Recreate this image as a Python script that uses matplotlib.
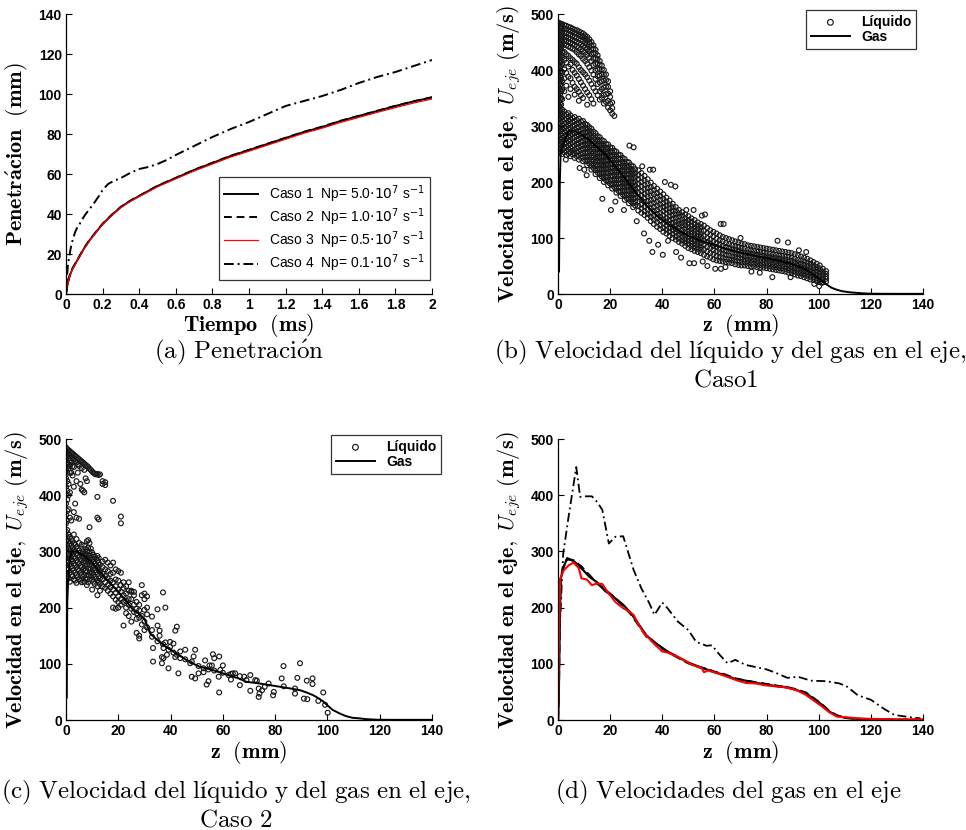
import numpy as np
import matplotlib
matplotlib.use('Agg')
from matplotlib import pyplot as plt
from matplotlib.font_manager import FontProperties

plt.rcParams['mathtext.fontset'] = 'cm'
plt.rcParams['font.family'] = ['Liberation Sans', 'DejaVu Sans']

# ---- (a) penetration vs time ----
t_a = [0, 0.005, 0.01, 0.02, 0.035, 0.05, 0.075, 0.1, 0.13, 0.16, 0.2, 0.25, 0.3, 0.35, 0.4, 0.5,
       0.6, 0.7, 0.8, 0.9, 1.0, 1.1, 1.2, 1.3, 1.4, 1.5, 1.6, 1.7, 1.8, 1.9, 2.0]
pen_caso1 = [0, 3, 5.5, 9, 12.5, 15, 19, 23, 27, 30.5, 35, 39.5, 43.5, 46.5, 49, 54, 58, 62, 65.5,
             69, 72, 75, 78, 81, 83.5, 86.5, 89, 91.5, 94, 96.3, 98.3]
pen_caso2 = [0, 3.2, 5.7, 9.3, 12.8, 15.2, 19.2, 23.2, 27.2, 30.6, 35.1, 39.6, 43.6, 46.6, 49.1,
             54.1, 58.1, 62.1, 65.6, 69.1, 72.1, 75.1, 78.1, 81.1, 83.7, 86.6, 89.1, 91.6, 94.1, 96.4, 98.4]
pen_caso3 = [0, 2.8, 5.3, 8.8, 12.3, 14.8, 18.8, 22.8, 26.8, 30.3, 34.8, 39.2, 43.2, 46.2, 48.7,
             53.6, 57.6, 61.5, 65.0, 68.5, 71.4, 74.4, 77.4, 80.4, 82.9, 85.8, 88.3, 90.8, 93.2, 95.5, 97.5]
t_a4 = [0, 0.005, 0.01, 0.02, 0.03, 0.04, 0.05, 0.06, 0.07, 0.08, 0.1, 0.12, 0.15, 0.18, 0.2, 0.23,
        0.26, 0.3, 0.35, 0.4, 0.45, 0.5, 0.55, 0.6, 0.7, 0.8, 0.9, 1.0, 1.1, 1.2, 1.3, 1.4, 1.5,
        1.6, 1.7, 1.8, 1.9, 2.0]
pen_caso4 = [0, 8, 14, 20, 25, 28, 31, 33, 34, 36, 39, 41.5, 45, 49, 52, 55, 56.5, 58, 60.5, 62.5,
             63.5, 65, 67, 69.5, 74, 78.5, 82.5, 86, 90, 94, 96.5, 99, 102, 105.5, 108.5, 111, 114, 117]
labels_a = [r'Caso 1  Np= 5.0$\cdot 10^{7}$ s$^{-1}$',
            r'Caso 2  Np= 1.0$\cdot 10^{7}$ s$^{-1}$',
            r'Caso 3  Np= 0.5$\cdot 10^{7}$ s$^{-1}$',
            r'Caso 4  Np= 0.1$\cdot 10^{7}$ s$^{-1}$']
xticks_a = [0, 0.2, 0.4, 0.6, 0.8, 1, 1.2, 1.4, 1.6, 1.8, 2]
xticklabels_a = ['0', '0.2', '0.4', '0.6', '0.8', '1', '1.2', '1.4', '1.6', '1.8', '2']

# ---- (b) liquid droplets (z, [u...]) and gas, caso 1 ----
liq_b_rows = [
    # upper band (injection velocity droplets)
    (0.0, [485, 479, 472, 466, 459, 452, 444, 436, 428, 420, 412, 404, 396, 388, 380, 372, 364, 356, 348, 340, 333]),
    (0.4, [484, 477, 470, 463, 456, 448, 440, 432, 424, 416, 408, 400, 392, 384, 376, 368, 360, 352, 344, 336]),
    (0.8, [483, 476, 469, 462, 455, 447, 438, 430, 421, 413, 405, 397, 389, 381, 373, 365, 357, 349, 341, 334]),
    (1.2, [482, 475, 468, 461, 453, 445, 436, 426, 417, 407, 398, 386, 375, 362, 350, 338]),
    (1.6, [482, 475, 468, 460, 452, 443, 433, 422, 410, 396, 380, 365, 348]),
    (2.4, [480, 474, 467, 460, 453, 446, 432, 418, 401, 385, 362]),
    (3.2, [479, 473, 466, 459, 452, 444, 428, 413, 395, 372]),
    (4.0, [477, 471, 464, 457, 450, 442, 425, 406, 388, 352]),
    (4.8, [476, 470, 463, 456, 449, 440, 421, 410, 385, 366]),
    (5.6, [474, 468, 461, 454, 447, 438, 418, 400, 377]),
    (6.4, [472, 466, 459, 452, 445, 436, 414, 395, 370, 356]),
    (7.2, [471, 465, 458, 450, 442, 432, 411, 390, 366]),
    (8.0, [469, 463, 456, 448, 440, 428, 405, 384, 361, 345]),
    (8.8, [467, 461, 454, 446, 437, 425, 400, 378, 355]),
    (9.6, [465, 459, 452, 443, 434, 420, 396, 372, 350]),
    (10.4, [462, 456, 449, 440, 431, 416, 392, 366]),
    (11.2, [459, 453, 446, 437, 427, 411, 387, 360, 338]),
    (12.0, [455, 449, 442, 433, 422, 405, 381, 355]),
    (12.8, [450, 444, 437, 428, 416, 399, 375, 348]),
    (13.6, [444, 438, 430, 420, 409, 392, 368, 340]),
    (14.4, [436, 430, 421, 411, 399, 384, 362]),
    (15.2, [426, 420, 411, 401, 389, 375, 355]),
    (16.0, [416, 410, 401, 390, 378, 362, 347]),
    (16.8, [408, 401, 392, 380, 366, 350]),
    (17.6, [400, 392, 381, 369, 355, 340]),
    (18.4, [392, 382, 370, 357, 343]),
    (19.2, [380, 370, 358, 345, 333]),
    (20.0, [362, 352, 340, 328]),
    (20.8, [342, 332, 322]),
    (21.6, [318]),
    # lower band
    (0.0, [251, 258, 266, 273, 281, 288, 295, 303, 310, 317, 323, 330]),
    (0.8, [254, 261, 269, 276, 284, 291, 298, 306, 313, 320, 327]),
    (1.6, [250, 257, 265, 272, 279, 287, 294, 301, 309, 316, 323, 329]),
    (2.4, [253, 260, 268, 275, 282, 290, 297, 304, 312, 319, 326]),
    (3.2, [248, 255, 263, 270, 277, 285, 292, 299, 306, 313, 321]),
    (4.0, [251, 258, 265, 273, 280, 287, 294, 302, 309, 316, 323]),
    (4.8, [246, 253, 261, 268, 275, 283, 290, 297, 304, 312, 319]),
    (5.6, [249, 256, 263, 271, 278, 285, 292, 300, 307, 314]),
    (6.4, [243, 250, 258, 265, 272, 280, 287, 294, 301, 309, 316]),
    (7.2, [246, 253, 260, 268, 275, 282, 289, 297, 304, 311]),
    (8.0, [240, 247, 255, 262, 269, 277, 284, 291, 298, 306, 313]),
    (8.8, [243, 250, 257, 265, 272, 279, 286, 293, 301, 308]),
    (9.6, [237, 244, 252, 259, 266, 273, 281, 288, 295, 302, 309]),
    (10.4, [239, 246, 253, 261, 268, 275, 282, 290, 297, 304]),
    (11.2, [230, 237, 245, 252, 259, 266, 274, 281, 288, 295, 302]),
    (12.0, [233, 240, 247, 255, 262, 269, 276, 284, 291, 298]),
    (12.8, [222, 229, 237, 244, 251, 258, 266, 273, 280, 287, 295]),
    (13.6, [225, 232, 239, 247, 254, 261, 268, 276, 283, 290]),
    (14.4, [214, 221, 229, 236, 243, 250, 258, 265, 272, 279, 287]),
    (15.2, [217, 224, 231, 239, 246, 253, 260, 268, 275, 282]),
    (16.0, [207, 214, 222, 229, 236, 243, 251, 258, 265, 272, 280]),
    (16.8, [210, 217, 224, 232, 239, 246, 253, 261, 268, 275]),
    (17.6, [200, 207, 215, 222, 229, 236, 244, 251, 258, 265, 273]),
    (18.4, [203, 210, 217, 225, 232, 239, 246, 254, 261, 268]),
    (19.2, [194, 201, 209, 216, 223, 230, 238, 245, 252, 259, 267]),
    (20.0, [197, 204, 211, 219, 226, 233, 240, 248, 255, 262]),
    (20.8, [188, 195, 203, 210, 217, 224, 232, 239, 246, 253, 261]),
    (21.6, [191, 198, 205, 213, 220, 227, 234, 242, 249, 256]),
    (22.4, [181, 188, 196, 203, 210, 217, 225, 232, 239, 246, 254]),
    (23.2, [184, 191, 198, 206, 213, 220, 227, 235, 242, 249]),
    (24.0, [175, 182, 190, 197, 204, 211, 219, 226, 233, 240, 248]),
    (24.8, [178, 185, 192, 200, 207, 214, 221, 229, 236, 243]),
    (25.6, [168, 175, 183, 190, 197, 204, 212, 219, 226, 233, 241]),
    (26.4, [171, 178, 185, 193, 200, 207, 214, 222, 229, 236]),
    (27.2, [162, 169, 177, 184, 191, 198, 206, 213, 220, 227, 235]),
    (28.0, [165, 172, 179, 187, 194, 201, 208, 216, 223, 230]),
    (28.8, [155, 162, 170, 177, 184, 191, 199, 206, 213, 220, 228]),
    (29.6, [158, 165, 172, 180, 187, 194, 201, 209, 216, 223]),
    (30.8, [149, 157, 165, 173, 181, 189, 197, 205, 213, 221]),
    (32.0, [145, 153, 160, 168, 176, 184, 192, 200, 208, 216]),
    (33.2, [141, 148, 156, 164, 172, 179, 187, 195, 203, 211]),
    (34.4, [136, 143, 151, 159, 166, 174, 182, 189, 197, 205]),
    (35.6, [130, 138, 145, 153, 161, 168, 176, 183, 191, 199]),
    (36.8, [125, 133, 140, 148, 155, 163, 170, 178, 186, 193]),
    (38.0, [120, 128, 135, 143, 150, 158, 165, 173, 180, 188]),
    (39.2, [116, 123, 131, 138, 145, 153, 160, 168, 175, 183]),
    (40.4, [111, 118, 126, 133, 140, 148, 155, 162, 170, 178]),
    (41.6, [108, 115, 122, 129, 136, 144, 151, 158, 165, 172]),
    (42.8, [104, 111, 118, 125, 132, 139, 146, 153, 160, 167]),
    (44.0, [100, 107, 114, 120, 127, 134, 141, 148, 155, 161]),
    (45.2, [97, 103, 110, 116, 123, 129, 136, 142, 149, 155]),
    (46.4, [93, 99, 106, 112, 119, 125, 131, 138, 144, 150]),
    (47.6, [90, 96, 102, 108, 114, 121, 127, 133, 140, 146]),
    (48.8, [86, 92, 98, 104, 110, 117, 123, 129, 135, 142]),
    (50.0, [82, 89, 95, 101, 107, 113, 119, 126, 132, 139]),
    (51.2, [80, 86, 92, 98, 104, 110, 116, 122, 129, 135]),
    (52.4, [77, 83, 89, 95, 101, 107, 113, 119, 125, 132]),
    (53.6, [75, 81, 87, 92, 98, 104, 110, 116, 122, 128]),
    (54.8, [73, 79, 84, 90, 96, 102, 107, 113, 119, 125]),
    (56.0, [70, 79, 88, 95, 104, 113, 122]),
    (57.2, [67, 76, 84, 93, 100, 109, 118]),
    (58.4, [65, 73, 82, 90, 97, 106, 114]),
    (59.6, [62, 71, 79, 86, 94, 103, 111]),
    (60.8, [60, 68, 76, 84, 91, 99, 108]),
    (62.0, [59, 66, 74, 81, 89, 96, 105]),
    (63.2, [58, 65, 72, 79, 86, 94, 102]),
    (64.4, [57, 63, 70, 77, 84, 91, 100]),
    (65.6, [56, 62, 69, 76, 82, 89, 98]),
    (66.8, [55, 61, 67, 74, 80, 87, 96]),
    (68.0, [53, 60, 66, 72, 79, 85, 94]),
    (69.2, [52, 58, 65, 71, 77, 84, 92]),
    (70.4, [51, 57, 63, 70, 76, 82, 90]),
    (71.6, [51, 57, 62, 68, 74, 81, 89]),
    (72.8, [50, 56, 61, 67, 73, 79, 87]),
    (74.0, [49, 55, 60, 66, 72, 78, 86]),
    (75.2, [49, 54, 60, 65, 71, 77, 85]),
    (76.4, [48, 53, 59, 64, 70, 76, 84]),
    (77.6, [47, 52, 58, 63, 69, 75, 83]),
    (78.8, [47, 52, 57, 63, 68, 74, 82]),
    (80.0, [46, 51, 56, 62, 67, 73, 81]),
    (81.2, [45, 50, 55, 61, 66, 72, 80]),
    (82.4, [44, 49, 54, 60, 65, 71, 79]),
    (83.6, [43, 48, 53, 59, 64, 70, 78]),
    (84.8, [42, 47, 52, 58, 63, 69, 77]),
    (86.0, [41, 46, 51, 57, 62, 68, 76]),
    (87.2, [40, 45, 50, 56, 61, 67, 75]),
    (88.4, [38, 43, 49, 54, 60, 66, 74]),
    (89.6, [37, 42, 48, 53, 59, 65, 73]),
    (90.8, [35, 40, 46, 51, 57, 63, 71]),
    (92.0, [33, 38, 44, 50, 55, 61, 69]),
    (93.2, [32, 37, 43, 48, 54, 60, 67]),
    (94.4, [30, 35, 41, 46, 52, 58, 65]),
    (95.6, [28, 33, 39, 44, 50, 56, 63]),
    (96.8, [26, 31, 37, 42, 48, 54, 60]),
    (98.0, [25, 30, 35, 40, 46, 51, 57]),
    (99.2, [23, 28, 33, 38, 43, 48, 54]),
    (100.4, [21, 26, 31, 36, 41, 46, 51]),
    (101.6, [21, 26, 30, 35, 40, 45]),
    (102.8, [22, 27, 31, 36, 41]),
    # scattered droplets outside the bands
    (3.0, [240]), (6.0, [252]), (8.3, [225]), (10.1, [222]), (11.0, [212]), (17.0, [170]),
    (20.3, [150]), (22.0, [165]), (27.4, [265]), (29.0, [262]), (32.3, [228]), (35.2, [222]),
    (36.5, [222]), (41.0, [200]), (43.3, [195]), (45.0, [192]), (49.2, [150]), (52.0, [150]),
    (55.2, [140]), (56.4, [142]), (62.4, [125]), (63.5, [125]), (70.0, [100]), (84.2, [95]),
    (88.2, [92]), (92.4, [78]), (95.2, [75]), (35.0, [95]), (36.2, [75]), (40.2, [70]),
    (42.2, [95]), (45.3, [75]), (50.4, [55]), (52.2, [55]), (55.5, [58]), (60.3, [45]),
    (62.5, [45]), (64.2, [48]), (82.2, [30]), (89.2, [30]), (98.3, [18]), (101.2, [20]),
    (100.2, [14]), (25.3, [150]), (30.2, [130]), (33.0, [108]), (38.4, [88]), (47.2, [65]),
    (57.3, [50]), (74.2, [40]), (77.4, [38]),
]
gas_b_z = [0.4, 0.5, 0.7, 1.0, 1.5, 2.5, 4, 6, 9, 12, 15, 18, 22, 26, 30, 34, 38, 42, 46, 50, 55, 60,
           65, 70, 74, 78, 82, 86, 90, 94, 97, 99, 101, 103, 105, 107, 109, 112, 116, 120, 130, 140]
gas_b_u = [40, 110, 200, 250, 262, 275, 290, 292, 285, 275, 262, 250, 228, 205, 180, 158, 140, 126,
           114, 104, 95, 87, 80, 74, 70, 66, 62, 58, 53, 46, 38, 31, 24, 17, 11, 7.5, 5, 3, 1.5, 0.5,
           0.3, 0.3]

# ---- (c) liquid droplets and gas, caso 2 ----
liq_c_rows = [
    (0.0, [485, 478, 470, 462, 455, 445, 430, 415, 400, 385, 365, 350, 335, 320, 305, 290, 275, 262, 248]),
    (0.5, [482, 475, 468, 458, 450, 440, 425, 408, 392, 372, 355, 338, 325, 312, 300, 288, 270, 255]),
    (1.0, [480, 473, 465, 455, 447, 420, 400, 375, 330, 318, 306, 295, 282, 268, 252]),
    (1.5, [478, 470, 462, 452, 440, 405, 360, 326, 314, 302, 290, 278, 262, 246]),
    (2.0, [476, 468, 458, 440, 355, 322, 310, 298, 286, 274, 258]),
    (2.5, [474, 466, 452, 435, 318, 306, 294, 282, 270, 256]),
    (3.0, [472, 463, 450, 415, 370, 330, 314, 302, 290, 278, 266, 250]),
    (3.5, [470, 460, 385, 312, 300, 288, 276, 262, 248]),
    (4.0, [468, 458, 425, 360, 322, 308, 296, 284, 272, 258, 244]),
    (4.5, [466, 455, 440, 305, 293, 281, 268, 254]),
    (5.0, [464, 452, 358, 315, 302, 290, 278, 266, 250]),
    (5.5, [462, 420, 298, 286, 274, 262, 248]),
    (6.0, [460, 448, 410, 312, 296, 284, 272, 258, 245]),
    (6.5, [458, 408, 300, 290, 280, 268, 255]),
    (7.0, [456, 445, 405, 310, 295, 283, 270, 258, 246]),
    (7.5, [454, 430, 304, 292, 280, 266, 252]),
    (8.0, [452, 425, 318, 300, 288, 276, 264, 250, 240]),
    (8.5, [450, 320, 306, 294, 282, 270, 258, 245]),
    (9.0, [447, 343, 315, 300, 288, 276, 262, 250]),
    (9.5, [445, 305, 292, 280, 268, 256]),
    (10.0, [442, 298, 286, 274, 262, 250, 232]),
    (10.5, [440, 294, 282, 270, 258, 246]),
    (11.0, [438, 290, 278, 266, 254, 242]),
    (11.5, [437, 287, 275, 263, 251]),
    (12.0, [438, 397, 360, 292, 284, 272, 260, 248, 238, 222]),
    (12.5, [436, 357, 288, 280, 268, 256, 246]),
    (13.0, [437, 276, 264, 252, 242, 230]),
    (14.0, [420, 425, 282, 272, 260, 250, 238]),
    (15.0, [423, 418, 285, 268, 256, 245, 235]),
    (16.0, [280, 265, 252, 240, 230]),
    (17.0, [275, 260, 248, 236, 225]),
    (18.0, [390, 280, 262, 245, 232, 220, 200]),
    (19.0, [268, 250, 238, 226, 214, 198]),
    (20.0, [265, 248, 232, 220, 210, 200]),
    (21.0, [362, 350, 262, 240, 228, 215, 205]),
    (22.0, [245, 235, 222, 210, 168]),
    (23.0, [238, 225, 212, 200, 190]),
    (24.0, [245, 230, 215, 205, 185]),
    (25.0, [230, 228, 215, 198, 175]),
    (26.0, [228, 222, 205, 192]),
    (27.0, [210, 198, 190, 180, 155]),
    (28.0, [205, 195, 182, 150, 145]),
    (29.0, [240, 222, 185, 170]),
    (30.0, [225, 215, 196, 175, 160]),
    (31.0, [220, 200, 188, 165]),
    (32.9, [184, 160, 148]),
    (33.3, [104, 128]),
    (35.0, [197, 168, 140]),
    (35.8, [159, 150]),
    (36.7, [101, 112]),
    (37.1, [227, 135]),
    (37.3, [110, 128]),
    (38.0, [200, 138]),
    (38.6, [116]),
    (39.2, [92, 125]),
    (39.8, [139, 130]),
    (41.1, [136, 120]),
    (41.8, [159, 112]),
    (42.4, [166, 116]),
    (43.0, [83]),
    (43.7, [122, 110]),
    (45.6, [125, 108]),
    (47.5, [101]),
    (48.1, [77, 104]),
    (48.8, [113]),
    (49.4, [125, 74]),
    (50.7, [83, 96]),
    (52.6, [85, 92]),
    (53.2, [106]),
    (53.8, [63]),
    (54.5, [69, 90]),
    (54.9, [97]),
    (55.8, [97]),
    (56.2, [117]),
    (56.7, [110, 88]),
    (58.6, [113, 49]),
    (58.4, [77]),
    (59.0, [89]),
    (60.0, [97, 84]),
    (62.2, [80]),
    (63.1, [72, 82]),
    (63.8, [83]),
    (64.7, [83]),
    (66.5, [62, 78]),
    (68.2, [77]),
    (69.0, [71]),
    (70.5, [80, 52]),
    (72.4, [71]),
    (73.0, [70]),
    (73.7, [56, 41]),
    (74.0, [47]),
    (75.0, [53]),
    (76.0, [59]),
    (77.5, [65]),
    (79.2, [44]),
    (79.5, [50]),
    (82.5, [74]),
    (83.2, [96]),
    (83.3, [60]),
    (87.6, [56, 47]),
    (88.5, [75]),
    (89.5, [101]),
    (91.0, [38]),
    (92.1, [70]),
    (92.3, [37]),
    (94.3, [74, 64]),
    (96.5, [34]),
    (98.4, [49]),
    (99.1, [27]),
    (100.1, [13]),
]
gas_c_z = [0.3, 0.35, 0.5, 0.8, 1.5, 2.5, 4, 7, 10, 13, 16, 19.5, 23, 25.8, 28, 30, 32.2, 35, 38,
           41, 44, 47, 51, 56, 62, 66, 69, 74, 78, 82, 86, 89.5, 92, 94.6, 96.5, 98.4, 100, 102,
           104.5, 107, 109.5, 112, 115, 119, 125, 140]
gas_c_u = [40, 120, 210, 245, 290, 300, 300, 292, 280, 264, 248, 231, 212, 195, 189, 180, 154, 142,
           131, 122, 113, 104, 95, 89, 80, 74, 68, 65, 62, 59, 56, 53, 49, 44, 39, 33, 26, 18, 12, 7,
           4, 3, 1.5, 0.5, 0.3, 0.3]

# ---- (d) gas velocity on the axis, all cases ----
z_d = [0, 0.3, 0.6, 1, 2, 3.5, 6, 9, 12, 15, 18, 21, 25, 28, 31, 34, 38, 42, 46, 50, 54, 57, 60, 64,
       68, 72, 76, 80, 84, 88, 91, 95, 98, 101, 104, 107, 110, 115, 120, 130, 140]
gas_d1 = [0, 40, 150, 250, 270, 288, 283, 270, 255, 245, 230, 220, 205, 190, 170, 150, 135, 122, 112,
          102, 95, 90, 85, 80, 73, 70, 66, 63, 60, 58, 54, 48, 38, 28, 15, 8, 4, 2, 1, 0.5, 0.3]
gas_d2 = [0, 45, 160, 252, 272, 286, 284, 273, 258, 243, 232, 221, 203, 188, 168, 148, 133, 121, 111,
          101, 94, 91, 86, 81, 74, 70, 67, 64, 61, 58, 55, 49, 39, 29, 16, 8, 4, 2, 1, 0.5, 0.3]
z_d3 = [0, 0.3, 0.8, 2, 4, 6, 8, 9, 11, 13, 15, 17, 19, 22, 25, 27, 29, 31, 33, 35, 37, 40, 42, 46,
        49, 52, 55, 56, 57.5, 60, 63, 66, 69, 72, 76, 79, 83, 86, 90, 92, 95, 98, 101, 104, 107, 110,
        115, 120, 130, 140]
gas_d3 = [0, 120, 250, 265, 275, 280, 270, 252, 250, 240, 243, 242, 228, 210, 199, 194, 187, 169, 154,
          145, 135, 122, 120, 112, 105, 97, 93, 85, 88, 85, 80, 75, 70, 66, 65, 62, 60, 59, 55, 52, 45,
          35, 25, 14, 6, 5, 3, 2, 1, 1]
z_d4 = [0, 0.5, 2, 4, 7, 8.5, 10, 13, 15, 17, 19.5, 22, 25, 29, 32, 35, 37, 40, 42, 46, 50, 53, 57,
        59, 62, 65, 68, 72, 77, 80, 83, 88, 92, 97, 103, 108, 111, 115, 120, 125, 129, 135, 139]
gas_d4 = [0, 150, 296, 360, 450, 397, 398, 398, 388, 374, 314, 326, 327, 267, 234, 208, 187, 209, 199,
          175, 160, 139, 132, 133, 116, 101, 107, 98, 93, 90, 85, 75, 77, 70, 69, 65, 59, 44, 36, 20,
          9, 5, 3]

liq_b_z = np.array([z for z, us in liq_b_rows for u in us])
liq_b_u = np.array([u for z, us in liq_b_rows for u in us])
liq_c_z = np.array([z for z, us in liq_c_rows for u in us])
liq_c_u = np.array([u for z, us in liq_c_rows for u in us])

W, H = 966, 830
fig = plt.figure(figsize=(W / 100, H / 100), dpi=100)
ax_a = fig.add_axes([66 / W, 1 - 294 / H, 366 / W, 280 / H])
ax_b = fig.add_axes([558 / W, 1 - 294 / H, 365 / W, 280 / H])
ax_c = fig.add_axes([66 / W, 1 - 720 / H, 366 / W, 281 / H])
ax_d = fig.add_axes([558 / W, 1 - 720 / H, 365 / W, 281 / H])

label_size = 16
ylab_vel = r'$\mathbf{Velocidad\ en\ el\ eje,}\ U_{eje}\ \mathbf{(m/s)}$'
xlab_z = r'$\mathbf{z\ \ (mm)}$'


def style(ax, xlim, ylim, xticks, yticks, xticklabels=None):
	ax.set_xlim(xlim)
	ax.set_ylim(ylim)
	ax.set_xticks(xticks)
	ax.set_yticks(yticks)
	if xticklabels is not None:
		ax.set_xticklabels(xticklabels)
	for s in ['top', 'right']:
		ax.spines[s].set_visible(False)
	for s in ['left', 'bottom']:
		ax.spines[s].set_linewidth(0.9)
	ax.tick_params(direction='in', length=4, width=0.8, labelsize=10, pad=3)
	for lab in ax.get_xticklabels() + ax.get_yticklabels():
		lab.set_fontweight('bold')
	ax.xaxis.set_label_coords(0.5, -0.066)
	ax.yaxis.set_label_coords(-0.096, 0.49)


# (a)
ax_a.plot(t_a, pen_caso1, color='black', lw=1.4, label=labels_a[0])
ax_a.plot(t_a, pen_caso2, color='black', lw=1.4, ls=(0, (4, 2.5)), label=labels_a[1])
ax_a.plot(t_a, pen_caso3, color='red', lw=0.9, label=labels_a[2])
ax_a.plot(t_a4, pen_caso4, color='black', lw=1.4, ls=(0, (5, 2, 1, 2)), label=labels_a[3])
style(ax_a, (0, 2), (0, 140), xticks_a, range(0, 141, 20), xticklabels_a)
ax_a.set_xlabel(r'$\mathbf{Tiempo\ \ (ms)}$', fontsize=label_size)
ax_a.set_ylabel(r'$\mathbf{Penetr\acute{a}cion\ \ (mm)}$', fontsize=label_size)
leg_font = FontProperties(family='Liberation Sans', size=10, math_fontfamily='dejavusans')
leg = ax_a.legend(loc='lower right', bbox_to_anchor=(0.995, 0.05), prop=leg_font, frameon=True,
                  fancybox=False, edgecolor='black', handlelength=2.4, labelspacing=0.12,
                  borderpad=0.4, handletextpad=0.8, borderaxespad=0)
leg.get_frame().set_linewidth(0.9)

# (b) and (c)
scat_kw = dict(s=12, facecolors='none', edgecolors='#1a1a1a', linewidths=0.85)
bold_leg = FontProperties(family='Liberation Sans', size=10, weight='bold')
for ax, lz, lu, gz, gu, anchor in [(ax_b, liq_b_z, liq_b_u, gas_b_z, gas_b_u, (0.981, 1.014)),
                                   (ax_c, liq_c_z, liq_c_u, gas_c_z, gas_c_u, (1.025, 1.014))]:
	ax.scatter(lz, lu, label='Líquido', **scat_kw)
	ax.plot(gz, gu, color='black', lw=1.4, label='Gas')
	style(ax, (0, 140), (0, 500), range(0, 141, 20), range(0, 501, 100))
	ax.set_xlabel(xlab_z, fontsize=label_size)
	ax.set_ylabel(ylab_vel, fontsize=label_size)
	lg = ax.legend(loc='upper right', bbox_to_anchor=anchor, prop=bold_leg, frameon=True,
	               fancybox=False, edgecolor='black', scatterpoints=1, handlelength=2.8,
	               labelspacing=0.1, borderpad=0.35, handletextpad=0.8, markerscale=1.2,
	               borderaxespad=0)
	lg.get_frame().set_linewidth(0.9)

# (d)
ax_d.plot(z_d4, gas_d4, color='black', lw=1.3, ls=(0, (5, 2, 1, 2)))
ax_d.plot(z_d, gas_d2, color='black', lw=1.6, ls=(0, (4, 2)))
ax_d.plot(z_d, gas_d1, color='black', lw=1.6)
ax_d.plot(z_d3, gas_d3, color='red', lw=1.5)
style(ax_d, (0, 140), (0, 500), range(0, 141, 20), range(0, 501, 100))
ax_d.set_xlabel(xlab_z, fontsize=label_size)
ax_d.set_ylabel(ylab_vel, fontsize=label_size)

# captions
cap = 18
fig.text(239 / W, 1 - 352 / H, r'$\mathrm{(a)\ Penetraci\acute{o}n}$', fontsize=cap, ha='center', va='center')
fig.text(730 / W, 1 - 352 / H, r'$\mathrm{(b)\ Velocidad\ del\ líquido\ y\ del\ gas\ en\ el\ eje,}$',
         fontsize=cap, ha='center', va='center')
fig.text(726 / W, 1 - 379 / H, r'$\mathrm{Caso1}$', fontsize=cap, ha='center', va='center')
fig.text(236 / W, 1 - 792 / H, r'$\mathrm{(c)\ Velocidad\ del\ líquido\ y\ del\ gas\ en\ el\ eje,}$',
         fontsize=cap, ha='center', va='center')
fig.text(236 / W, 1 - 819 / H, r'$\mathrm{Caso\ 2}$', fontsize=cap, ha='center', va='center')
fig.text(728 / W, 1 - 792 / H, r'$\mathrm{(d)\ Velocidades\ del\ gas\ en\ el\ eje}$', fontsize=cap,
         ha='center', va='center')

fig.savefig('out.png', dpi=100)
